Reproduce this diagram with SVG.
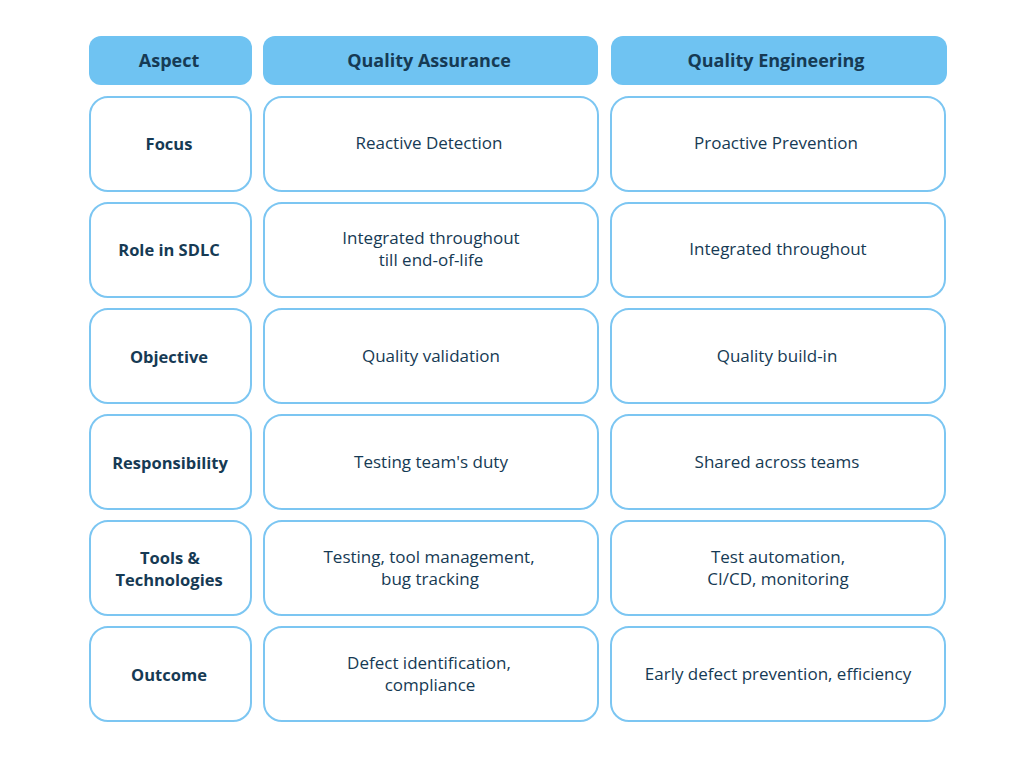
<svg xmlns="http://www.w3.org/2000/svg" width="1024" height="768" viewBox="0 0 1024 768">
<style>
.hd{fill:#6fc3f2}
.cell{fill:#ffffff;stroke:#7cc6f2;stroke-width:2}
text{font-family:"Open Sans","Noto Sans",sans-serif;fill:#163a54;text-anchor:middle;dominant-baseline:central}
.h{font-weight:700;font-size:18px}
.l{font-weight:700;font-size:16.5px}
.b{font-size:17px}
</style>
<rect width="1024" height="768" fill="#ffffff"/>
<g id="header">
<rect class="hd" x="89" y="36" width="163" height="49" rx="12"/>
<rect class="hd" x="263" y="36" width="335" height="49" rx="12"/>
<rect class="hd" x="611" y="36" width="336" height="49" rx="12"/>
<text class="h" x="169" y="60">Aspect</text>
<text class="h" x="429" y="60">Quality Assurance</text>
<text class="h" x="776" y="60">Quality Engineering</text>
</g>
<g id="row-focus">
<rect class="cell" x="90" y="97" width="161" height="94" rx="18"/>
<rect class="cell" x="264" y="97" width="334" height="94" rx="18"/>
<rect class="cell" x="611" y="97" width="334" height="94" rx="18"/>
<text class="l" x="169" y="143">Focus</text>
<text class="b" x="429" y="142">Reactive Detection</text>
<text class="b" x="776" y="142">Proactive Prevention</text>
</g>
<g id="row-role">
<rect class="cell" x="90" y="203" width="161" height="94" rx="18"/>
<rect class="cell" x="264" y="203" width="334" height="94" rx="18"/>
<rect class="cell" x="611" y="203" width="334" height="94" rx="18"/>
<text class="l" x="169" y="249">Role in SDLC</text>
<text class="b" x="431" y="237">Integrated throughout</text>
<text class="b" x="431" y="259">till end-of-life</text>
<text class="b" x="778" y="248">Integrated throughout</text>
</g>
<g id="row-objective">
<rect class="cell" x="90" y="309" width="161" height="94" rx="18"/>
<rect class="cell" x="264" y="309" width="334" height="94" rx="18"/>
<rect class="cell" x="611" y="309" width="334" height="94" rx="18"/>
<text class="l" x="169" y="356">Objective</text>
<text class="b" x="431" y="355">Quality validation</text>
<text class="b" x="777" y="355">Quality build-in</text>
</g>
<g id="row-responsibility">
<rect class="cell" x="90" y="415" width="161" height="94" rx="18"/>
<rect class="cell" x="264" y="415" width="334" height="94" rx="18"/>
<rect class="cell" x="611" y="415" width="334" height="94" rx="18"/>
<text class="l" x="170" y="462">Responsibility</text>
<text class="b" x="431" y="461">Testing team's duty</text>
<text class="b" x="777" y="461">Shared across teams</text>
</g>
<g id="row-tools">
<rect class="cell" x="90" y="521" width="161" height="94" rx="18"/>
<rect class="cell" x="264" y="521" width="334" height="94" rx="18"/>
<rect class="cell" x="611" y="521" width="334" height="94" rx="18"/>
<text class="l" x="170" y="557">Tools &amp;</text>
<text class="l" x="169" y="579">Technologies</text>
<text class="b" x="429" y="556">Testing, tool management,</text>
<text class="b" x="430" y="578">bug tracking</text>
<text class="b" x="778" y="556">Test automation,</text>
<text class="b" x="778" y="578">CI/CD, monitoring</text>
</g>
<g id="row-outcome">
<rect class="cell" x="90" y="627" width="161" height="94" rx="18"/>
<rect class="cell" x="264" y="627" width="334" height="94" rx="18"/>
<rect class="cell" x="611" y="627" width="334" height="94" rx="18"/>
<text class="l" x="169" y="674">Outcome</text>
<text class="b" x="429" y="662">Defect identification,</text>
<text class="b" x="430" y="684">compliance</text>
<text class="b" x="778" y="673">Early defect prevention, efficiency</text>
</g>
<g id="connectors"/>
</svg>
